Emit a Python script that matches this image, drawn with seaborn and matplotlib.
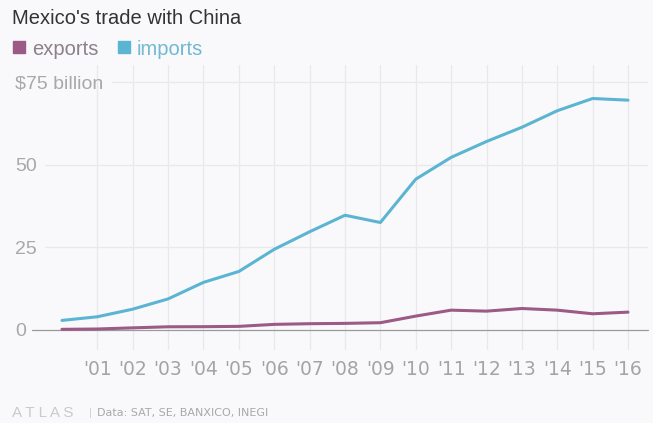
import pandas as pd
import matplotlib.pyplot as plt
import seaborn as sns
from matplotlib.lines import Line2D

# 数据：墨西哥对华贸易（十亿美元）
years = list(range(2000, 2017))
exports = [0.2, 0.3, 0.65, 0.97, 1.0, 1.1, 1.7, 1.9, 2.0, 2.2, 4.2, 6.0, 5.7, 6.5, 6.0, 4.9, 5.4]
imports = [2.9, 4.0, 6.3, 9.4, 14.4, 17.7, 24.4, 29.7, 34.7, 32.5, 45.6, 52.2, 57.0, 61.3, 66.3, 70.0, 69.5]
tick_years = list(range(2001, 2017))
tick_labels = ["'%02d" % (y % 100) for y in tick_years]
y_ticks = [0, 25, 50, 75]
y_labels = ["0", "25", "50", "$75 billion"]

df = pd.DataFrame({"year": years * 2,
                   "value": exports + imports,
                   "flow": ["exports"] * len(years) + ["imports"] * len(years)})

colors = {"exports": "#9c5a87", "imports": "#5bb5d2"}
bg = "#f9f9fb"

sns.set_theme(style="white")
plt.rcParams['font.family'] = ['Liberation Sans', 'DejaVu Sans']

fig = plt.figure(figsize=(6.53, 4.23), dpi=100, facecolor=bg)
ax = fig.add_axes([45 / 653, 73 / 423, 603 / 653, 285 / 423])
ax.set_facecolor(bg)

sns.lineplot(data=df, x="year", y="value", hue="flow", palette=colors,
             linewidth=2.2, legend=False, ax=ax)

ax.set_xlim(1999.52, 2016.565)
ax.set_ylim(-6.05, 80.13)

# 网格线
ax.set_xticks(tick_years)
ax.set_xticklabels(tick_labels, fontfamily='Liberation Sans Narrow', fontsize=13.5, color="#a4a4a4")
ax.grid(axis='x', color="#e9e9ec", linewidth=0.9)
ax.grid(axis='y', visible=False)
for v in [25, 50]:
    ax.axhline(v, xmin=0, xmax=1, color="#e9e9ec", linewidth=0.9, zorder=0)
ax.axhline(75, xmin=0.111, xmax=1, color="#e9e9ec", linewidth=0.9, zorder=0)
ax.axhline(0, xmin=-0.0216, xmax=1, color="#9a9a9a", linewidth=0.9, clip_on=False, zorder=1)

ax.set_yticks(y_ticks)
ax.set_yticklabels(y_labels, fontsize=14, color="#a8a8a8")
for lab in ax.get_yticklabels():
    lab.set_ha('left')
ax.tick_params(axis='y', length=0, pad=21.6)
ax.tick_params(axis='x', length=0, pad=7)
ax.set_xlabel("")
ax.set_ylabel("")
sns.despine(ax=ax, left=True, bottom=True)

# 标题和图例
fig.text(12 / 653, 1 - 18 / 423, "Mexico's trade with China", fontsize=14.5,
         color="#333333", va='center', ha='left')
handles = [Line2D([], [], marker='s', linestyle='', markersize=8, color=colors[k]) for k in ["exports", "imports"]]
leg = fig.legend(handles, ["exports", "imports"], loc='center left', bbox_to_anchor=(12 / 653, 1 - 49 / 423),
                 ncol=2, frameon=False, fontsize=14.5, handletextpad=0.3, columnspacing=0.9,
                 handlelength=0.7, borderaxespad=0, borderpad=0)
leg.get_texts()[0].set_color("#8d8089")
leg.get_texts()[1].set_color("#72b9d2")

# 来源
fig.text(12 / 653, 1 - 413 / 423, "A T L A S", fontsize=11, color="#cacaca", va='center', ha='left')
fig.text(89 / 653, 1 - 413 / 423, "|", fontsize=8, color="#d0d0d0", va='center', ha='left')
fig.text(97 / 653, 1 - 413 / 423, "Data: SAT, SE, BANXICO, INEGI", fontsize=8,
         fontfamily='Liberation Sans Narrow', color="#a8a8a8", va='center', ha='left')

fig.savefig("out.png", dpi=100, facecolor=bg)
